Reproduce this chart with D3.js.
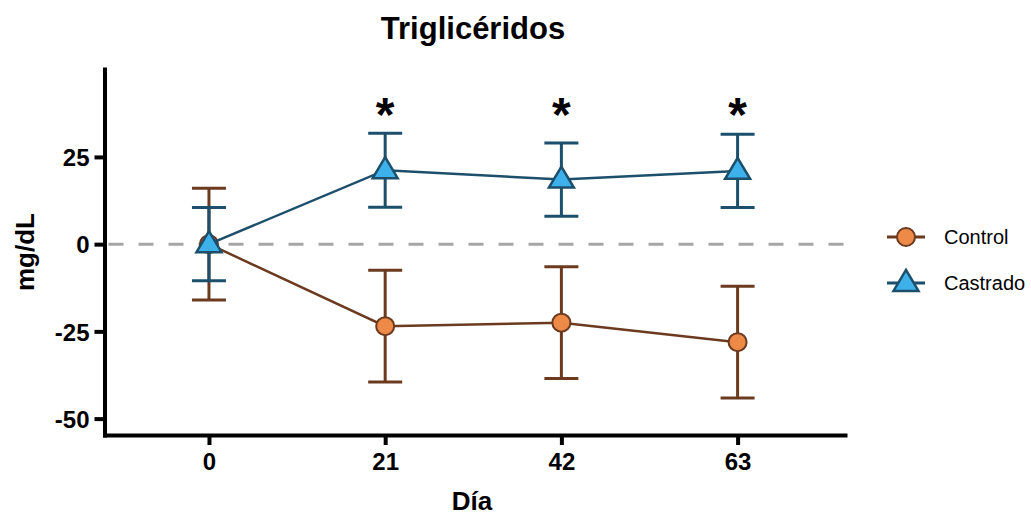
<!DOCTYPE html>
<html><head><meta charset="utf-8">
<script src="https://cdn.jsdelivr.net/npm/d3@7"></script>
<style>body{margin:0;background:#fff}svg{display:block}</style>
</head><body>
<svg id="c" width="1031" height="516"></svg>
<script>
const days = [0, 21, 42, 63];
const controlMean = [0, -23.5, -22.5, -28.1];
const controlErr = [16, 16, 16, 16];
const castradoMean = [0, 21.2, 18.5, 21];
const castradoErr = [10.5, 10.6, 10.5, 10.5];
const starDays = [21, 42, 63];
const starValue = [38.5, 38.5, 38.5];
const yTicks = [-50, -25, 0, 25];
const xTicks = [0, 21, 42, 63];

const svg = d3.select("#c");
const font = "'Liberation Sans', Arial, sans-serif";
const x = d3.scaleLinear().domain([-12.45, 75.8]).range([104.5, 845]);
const y = d3.scaleLinear().domain([-54.7, 50.2]).range([435, 69]);

// zero reference
svg.append("line").attr("x1", x(-12.45)).attr("x2", x(75.8)).attr("y1", y(0)).attr("y2", y(0))
  .attr("stroke", "#a6a6a6").attr("stroke-width", 3).attr("stroke-dasharray", "15,15")
  .attr("stroke-dashoffset", -4);

// axes
const yAxis = svg.append("g").attr("transform", `translate(${x(-12.45)},0)`)
  .call(d3.axisLeft(y).tickValues(yTicks).tickSize(10).tickSizeOuter(0).tickPadding(5).tickFormat(d => String(d)));
const xAxis = svg.append("g").attr("transform", `translate(0,${y(-54.7)})`)
  .call(d3.axisBottom(x).tickValues(xTicks).tickSize(10).tickSizeOuter(0).tickPadding(8).tickFormat(d => String(d)));
[yAxis, xAxis].forEach(g => {
  g.select(".domain").attr("stroke", "#000").attr("stroke-width", 4).attr("stroke-linecap", "square");
  g.selectAll(".tick line").attr("stroke", "#000").attr("stroke-width", 4);
  g.selectAll(".tick text").attr("fill", "#000").style("font-family", font)
    .style("font-weight", "bold").style("font-size", "24px");
});
yAxis.selectAll(".tick text").attr("dy", "0.36em");

const series = [
  {name: "Control", mean: controlMean, err: controlErr, stroke: "#6b3a1f", fill: "#ee8a48", shape: "circle"},
  {name: "Castrado", mean: castradoMean, err: castradoErr, stroke: "#1c4f6b", fill: "#3fb1ea", shape: "triangle"}
];
const cap = 17;
function drawMarker(g, shape, cx, cy, s) {
  if (shape === "circle") {
    g.append("circle").attr("cx", cx).attr("cy", cy).attr("r", 9)
      .attr("fill", s.fill).attr("stroke", s.stroke).attr("stroke-width", 2);
  } else {
    const w = 12.5, h = 21;
    g.append("path").attr("d", `M${cx},${cy - h * 0.62} L${cx + w},${cy + h * 0.38} L${cx - w},${cy + h * 0.38} Z`)
      .attr("fill", s.fill).attr("stroke", s.stroke).attr("stroke-width", 2.5).attr("stroke-linejoin", "miter");
  }
}
series.forEach(s => {
  const g = svg.append("g");
  days.forEach((d, i) => {
    const cx = x(d), top = y(s.mean[i] + s.err[i]), bot = y(s.mean[i] - s.err[i]);
    g.append("line").attr("x1", cx).attr("x2", cx).attr("y1", top).attr("y2", bot).attr("stroke", s.stroke).attr("stroke-width", 3);
    [top, bot].forEach(yy => g.append("line").attr("x1", cx - cap).attr("x2", cx + cap).attr("y1", yy).attr("y2", yy)
      .attr("stroke", s.stroke).attr("stroke-width", 3));
  });
  g.append("path").datum(days.map((d, i) => [x(d), y(s.mean[i])]))
    .attr("d", d3.line()).attr("fill", "none").attr("stroke", s.stroke).attr("stroke-width", 2.5);
  days.forEach((d, i) => drawMarker(g, s.shape, x(d), y(s.mean[i]), s));
});

// stars
starDays.forEach((d, i) => {
  svg.append("text").attr("x", x(d)).attr("y", y(starValue[i]) + 21).attr("text-anchor", "middle")
    .style("font-family", font).style("font-weight", "bold").style("font-size", "48px").text("*");
});

// title and labels
svg.append("text").attr("x", 473).attr("y", 39).attr("text-anchor", "middle")
  .style("font-family", font).style("font-weight", "bold").style("font-size", "31px").text("Triglicéridos");
svg.append("text").attr("x", 472).attr("y", 510).attr("text-anchor", "middle")
  .style("font-family", font).style("font-weight", "bold").style("font-size", "26px").text("Día");
svg.append("text").attr("transform", "translate(34,252) rotate(-90)").attr("text-anchor", "middle")
  .style("font-family", font).style("font-weight", "bold").style("font-size", "26px").text("mg/dL");

// legend
const legY = [237, 283];
series.forEach((s, i) => {
  const g = svg.append("g");
  g.append("line").attr("x1", 887).attr("x2", 925).attr("y1", legY[i]).attr("y2", legY[i]).attr("stroke", s.stroke).attr("stroke-width", 3);
  drawMarker(g, s.shape, 906, legY[i], s);
  g.append("text").attr("x", 944).attr("y", legY[i]).attr("dy", "0.36em")
    .style("font-family", font).style("font-size", "20px").attr("fill", "#000").text(s.name);
});
</script>
</body></html>
